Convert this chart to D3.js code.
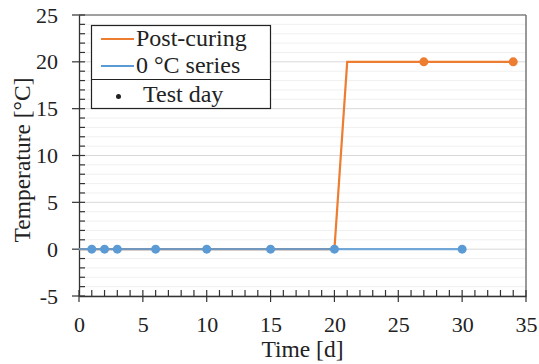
<!DOCTYPE html>
<html><head><meta charset="utf-8">
<script src="https://cdn.jsdelivr.net/npm/d3@7"></script>
<style>
html,body{margin:0;padding:0;background:#fff;}
svg text{font-family:"Liberation Serif","Times New Roman",serif !important;fill:#222;}
</style></head>
<body><svg id="c" width="539" height="364"></svg>
<script>
const postDays = [0, 20, 21, 27, 34];
const postTemps = [0, 0, 20, 20, 20];
const postTestDays = [27, 34];
const postTestTemps = [20, 20];
const zeroDays = [0, 30];
const zeroTemps = [0, 0];
const zeroTestDays = [1, 2, 3, 6, 10, 15, 20, 30];
const zeroTestTemps = [0, 0, 0, 0, 0, 0, 0, 0];
const xTicks = [0, 5, 10, 15, 20, 25, 30, 35];
const yTicks = [-5, 0, 5, 10, 15, 20, 25];
const legendLabels = ["Post-curing", "0 °C series", "Test day"];
const orange = "#ED7D31", blue = "#5B9BD5";

const svg = d3.select("#c");
const L = 79, R = 526, T = 15, B = 296;
const x = d3.scaleLinear().domain([0, 35]).range([L, R]);
const y = d3.scaleLinear().domain([-5, 25]).range([B, T]);
const fmt = d => String(d);

// gridlines
const minor = d3.range(-5, 26, 1);
svg.append("g").selectAll("line").data(minor).join("line")
  .attr("x1", L).attr("x2", R).attr("y1", d => y(d)).attr("y2", d => y(d))
  .attr("stroke", d => d % 5 === 0 ? "#d9d9d9" : "#f0f0f0").attr("stroke-width", 1);

// borders top/right
svg.append("line").attr("x1", L).attr("x2", R).attr("y1", T).attr("y2", T).attr("stroke", "#555").attr("stroke-width", 1.2);
svg.append("line").attr("x1", R).attr("x2", R).attr("y1", T).attr("y2", B).attr("stroke", "#777").attr("stroke-width", 1.5);

// axes
const xAxis = d3.axisBottom(x).tickValues(xTicks).tickFormat(fmt).tickSize(0).tickPadding(36);
const gx = svg.append("g").attr("transform", `translate(0,${B})`).call(xAxis);
gx.attr("font-family", null).attr("font-size", null);
gx.select(".domain").attr("stroke", "#333").attr("stroke-width", 1.3);
gx.selectAll("text").attr("dy", null).style("font-size", "22px").attr("fill", "#222");
svg.append("g").selectAll("line").data(d3.range(0, 36, 1)).join("line")
  .attr("x1", d => x(d)).attr("x2", d => x(d))
  .attr("y1", B - 6).attr("y2", d => d % 5 === 0 ? B + 6 : B)
  .attr("stroke", "#333").attr("stroke-width", 1.2);

const yAxis = d3.axisLeft(y).tickValues(yTicks).tickFormat(fmt).tickSize(0).tickPadding(21);
const gy = svg.append("g").attr("transform", `translate(${L},0)`).call(yAxis);
gy.attr("font-family", null).attr("font-size", null);
gy.select(".domain").attr("stroke", "#333").attr("stroke-width", 1.3);
gy.selectAll("text").style("font-size", "22px").attr("fill", "#222");
svg.append("g").selectAll("line").data(minor).join("line")
  .attr("y1", d => y(d)).attr("y2", d => y(d))
  .attr("x1", d => d % 5 === 0 ? L - 7 : L).attr("x2", L + 6)
  .attr("stroke", "#333").attr("stroke-width", 1.2);

// titles
svg.append("text").attr("x", (L + R) / 2).attr("y", 357).attr("text-anchor", "middle").style("font-size", "23.5px").text("Time [d]");
svg.append("text").attr("transform", `translate(30,160) rotate(-90)`).attr("text-anchor", "middle").style("font-size", "23.5px").text("Temperature [°C]");

// lines
const line = d3.line().x(d => x(d[0])).y(d => y(d[1]));
svg.append("path").datum(d3.zip(postDays, postTemps)).attr("d", line)
  .attr("fill", "none").attr("stroke", orange).attr("stroke-width", 2.2);
svg.append("path").datum(d3.zip(zeroDays, zeroTemps)).attr("d", line)
  .attr("fill", "none").attr("stroke", blue).attr("stroke-width", 2.2).attr("stroke-opacity", 0.85);
svg.append("g").selectAll("circle").data(d3.zip(postTestDays, postTestTemps)).join("circle")
  .attr("cx", d => x(d[0])).attr("cy", d => y(d[1])).attr("r", 4.5).attr("fill", orange);
svg.append("g").selectAll("circle").data(d3.zip(zeroTestDays, zeroTestTemps)).join("circle")
  .attr("cx", d => x(d[0])).attr("cy", d => y(d[1])).attr("r", 4.5).attr("fill", blue);

// legend
const lg = svg.append("g");
lg.append("rect").attr("x", 91.5).attr("y", 25.5).attr("width", 179).attr("height", 83)
  .attr("fill", "#fff").attr("stroke", "#222").attr("stroke-width", 1.2);
lg.append("line").attr("x1", 91.5).attr("x2", 270.5).attr("y1", 79.5).attr("y2", 79.5).attr("stroke", "#222").attr("stroke-width", 1.2);
lg.append("line").attr("x1", 101).attr("x2", 134).attr("y1", 39).attr("y2", 39).attr("stroke", orange).attr("stroke-width", 2.2);
lg.append("line").attr("x1", 101).attr("x2", 134).attr("y1", 66).attr("y2", 66).attr("stroke", blue).attr("stroke-width", 2.2);
lg.append("circle").attr("cx", 118.5).attr("cy", 96.5).attr("r", 2.5).attr("fill", "#222");
lg.append("text").attr("x", 136).attr("y", 46).style("font-size", "24px").text(legendLabels[0]);
lg.append("text").attr("x", 136).attr("y", 73).style("font-size", "24px").text(legendLabels[1]);
lg.append("text").attr("x", 143).attr("y", 102).style("font-size", "24px").text(legendLabels[2]);
</script></body></html>
